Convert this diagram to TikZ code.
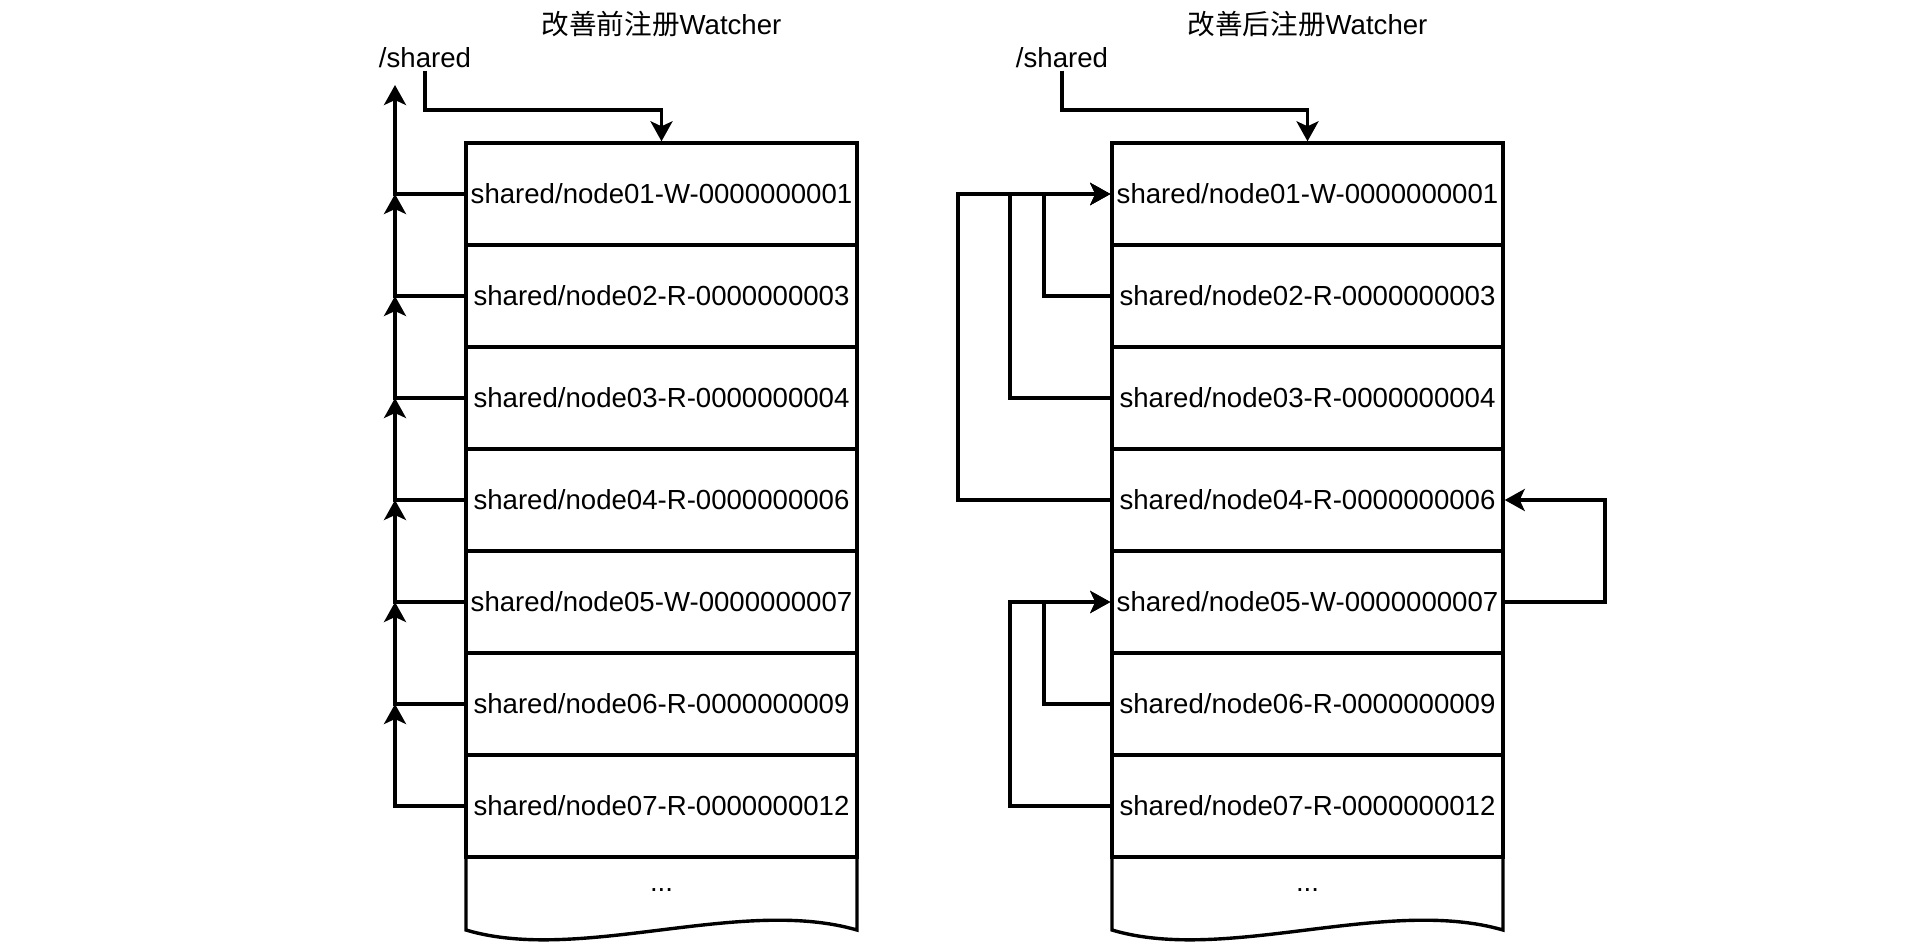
\documentclass[tikz,border=0pt]{standalone}
\usepackage{fontspec}
\setmainfont{Liberation Sans}
\newfontfamily\cjk{Noto Sans CJK SC}
\usetikzlibrary{arrows.meta}

\begin{document}
\begin{tikzpicture}[x=0.5pt,y=-0.5pt,
  cell/.style={draw,line width=1.7pt,minimum width=195.5pt,minimum height=51pt,inner sep=0pt,font=\fontsize{13.8}{16}\selectfont},
  lbl/.style={inner sep=1pt,font=\fontsize{13.8}{16}\selectfont},
  wire/.style={line width=1.7pt},
  link/.style={line width=1.7pt,-{Stealth[length=10pt,width=11pt,inset=2.5pt]}}]
  \useasboundingbox (0,0) rectangle (1930,948);

  \node[lbl] (tL) at (661.5,24) {{\cjk 改善前注册}Watcher};
  \node[lbl] (shL) at (425,58) {/shared};
  \node[cell] (rL1) at (661.5,194) {shared/node01-W-0000000001};
  \node[cell] (rL2) at (661.5,296) {shared/node02-R-0000000003};
  \node[cell] (rL3) at (661.5,398) {shared/node03-R-0000000004};
  \node[cell] (rL4) at (661.5,500) {shared/node04-R-0000000006};
  \node[cell] (rL5) at (661.5,602) {shared/node05-W-0000000007};
  \node[cell] (rL6) at (661.5,704) {shared/node06-R-0000000009};
  \node[cell] (rL7) at (661.5,806) {shared/node07-R-0000000012};
  \draw[wire] (466,857) -- (466,930) .. controls (580,964) and (740,896) .. (857,930) -- (857,857);
  \node[lbl] (rL8) at (661.5,890) {...};

  \coordinate (kL) at (661.5,110);
  \draw[link] (shL.south) |- (kL) -- (rL1.north);
  \coordinate (jL0) at (395,85);
  \coordinate (jL1) at (395,194);
  \coordinate (jL2) at (395,296);
  \coordinate (jL3) at (395,398);
  \coordinate (jL4) at (395,500);
  \coordinate (jL5) at (395,602);
  \coordinate (jL6) at (395,704);
  \coordinate (jL7) at (395,806);
  \draw[link] (rL1.west) -- (jL1) -- (jL0);
  \draw[link] (rL2.west) -- (jL2) -- (jL1);
  \draw[link] (rL3.west) -- (jL3) -- (jL2);
  \draw[link] (rL4.west) -- (jL4) -- (jL3);
  \draw[link] (rL5.west) -- (jL5) -- (jL4);
  \draw[link] (rL6.west) -- (jL6) -- (jL5);
  \draw[link] (rL7.west) -- (jL7) -- (jL6);

  \node[lbl] (tR) at (1307.5,24) {{\cjk 改善后注册}Watcher};
  \node[lbl] (shR) at (1062,58) {/shared};
  \node[cell] (rR1) at (1307.5,194) {shared/node01-W-0000000001};
  \node[cell] (rR2) at (1307.5,296) {shared/node02-R-0000000003};
  \node[cell] (rR3) at (1307.5,398) {shared/node03-R-0000000004};
  \node[cell] (rR4) at (1307.5,500) {shared/node04-R-0000000006};
  \node[cell] (rR5) at (1307.5,602) {shared/node05-W-0000000007};
  \node[cell] (rR6) at (1307.5,704) {shared/node06-R-0000000009};
  \node[cell] (rR7) at (1307.5,806) {shared/node07-R-0000000012};
  \draw[wire] (1112,857) -- (1112,930) .. controls (1226,964) and (1386,896) .. (1503,930) -- (1503,857);
  \node[lbl] (rR8) at (1307.5,890) {...};

  \coordinate (kR) at (1307.5,110);
  \draw[link] (shR.south) |- (kR) -- (rR1.north);
  \coordinate (jR2) at (1044,296);
  \coordinate (jR3) at (1010,398);
  \coordinate (jR4) at (958,500);
  \coordinate (jR5) at (1605,602);
  \coordinate (jR6) at (1044,704);
  \coordinate (jR7) at (1010,806);
  \draw[link] (rR2.west) -- (jR2) |- (rR1.west);
  \draw[link] (rR3.west) -- (jR3) |- (rR1.west);
  \draw[link] (rR4.west) -- (jR4) |- (rR1.west);
  \draw[link] (rR5.east) -- (jR5) |- (rR4.east);
  \draw[link] (rR6.west) -- (jR6) |- (rR5.west);
  \draw[link] (rR7.west) -- (jR7) |- (rR5.west);
\end{tikzpicture}
\end{document}
